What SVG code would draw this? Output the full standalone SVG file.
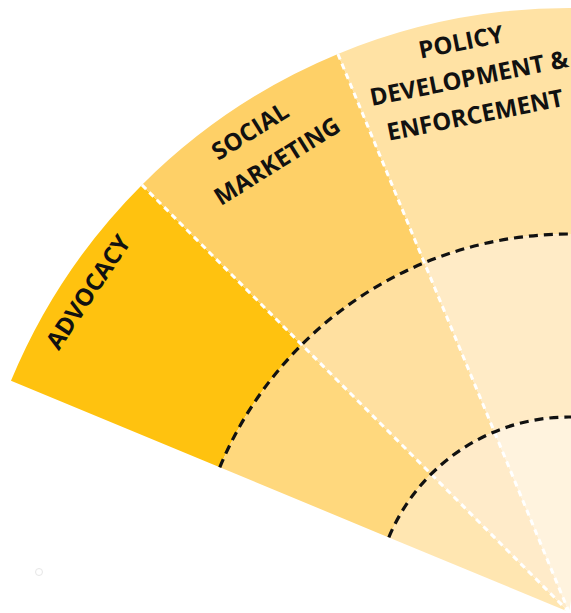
<svg xmlns="http://www.w3.org/2000/svg" width="571" height="613" viewBox="0 0 571 613">
<style>
.lbl{font-family:"Open Sans","DejaVu Sans",sans-serif;font-weight:bold;font-size:24px;fill:#111;text-anchor:middle}
.sep{fill:none;stroke:#fff;stroke-width:3;stroke-dasharray:6 4.5}
.ring{fill:none;stroke:#111;stroke-width:3.2;stroke-dasharray:9 6}
</style>
<rect width="571" height="613" fill="#fff"/>
<g id="advocacy">
<path d="M 10.98,380.86 A 604 604 0 0 1 141.91,184.91 L 301.71,344.71 A 378 378 0 0 0 219.77,467.35 Z" fill="#FFC20F"/>
<path d="M 219.77,467.35 A 378 378 0 0 1 301.71,344.71 L 431.11,474.11 A 195 195 0 0 0 388.84,537.38 Z" fill="#FFD87D"/>
<path d="M 388.84,537.38 A 195 195 0 0 1 431.11,474.11 L 569,612 Z" fill="#FFE6B1"/>
<text class="lbl" transform="translate(88,292) rotate(-56.25)" x="0" y="8.5">ADVOCACY</text>
</g>
<g id="social-marketing">
<path d="M 141.91,184.91 A 604 604 0 0 1 337.86,53.98 L 424.35,262.77 A 378 378 0 0 0 301.71,344.71 Z" fill="#FED067"/>
<path d="M 301.71,344.71 A 378 378 0 0 1 424.35,262.77 L 494.38,431.84 A 195 195 0 0 0 431.11,474.11 Z" fill="#FFE0A0"/>
<path d="M 431.11,474.11 A 195 195 0 0 1 494.38,431.84 L 569,612 Z" fill="#FFEBC9"/>
<text class="lbl" transform="translate(250,131) rotate(-32)" x="0" y="8.5">SOCIAL</text>
<text class="lbl" transform="translate(277,161) rotate(-32)" x="0" y="8.5">MARKETING</text>
</g>
<g id="policy">
<path d="M 337.86,53.98 A 604 604 0 0 1 673.88,17.17 L 634.64,239.74 A 378 378 0 0 0 424.35,262.77 Z" fill="#FFE2A4"/>
<path d="M 424.35,262.77 A 378 378 0 0 1 634.64,239.74 L 602.86,419.96 A 195 195 0 0 0 494.38,431.84 Z" fill="#FFEBC6"/>
<path d="M 494.38,431.84 A 195 195 0 0 1 602.86,419.96 L 569,612 Z" fill="#FFF3DE"/>
<text class="lbl" transform="translate(461,42) rotate(-11.25)" x="0" y="8.5">POLICY</text>
<text class="lbl" transform="translate(469,78) rotate(-11.25)" x="0" y="8.5">DEVELOPMENT &amp;</text>
<text class="lbl" transform="translate(475,115) rotate(-11.25)" x="0" y="8.5">ENFORCEMENT</text>
</g>
<g id="connectors">
<path class="sep" d="M 141.91,184.91 L 569,612"/>
<path class="sep" d="M 337.86,53.98 L 569,612"/>
<path class="ring" d="M 219.77,467.35 A 378 378 0 0 1 634.64,239.74"/>
<path class="ring" d="M 388.84,537.38 A 195 195 0 0 1 602.86,419.96"/>
</g>
<circle cx="39" cy="572" r="3.5" fill="none" stroke="#e6e6e6" stroke-width="1"/>
</svg>
